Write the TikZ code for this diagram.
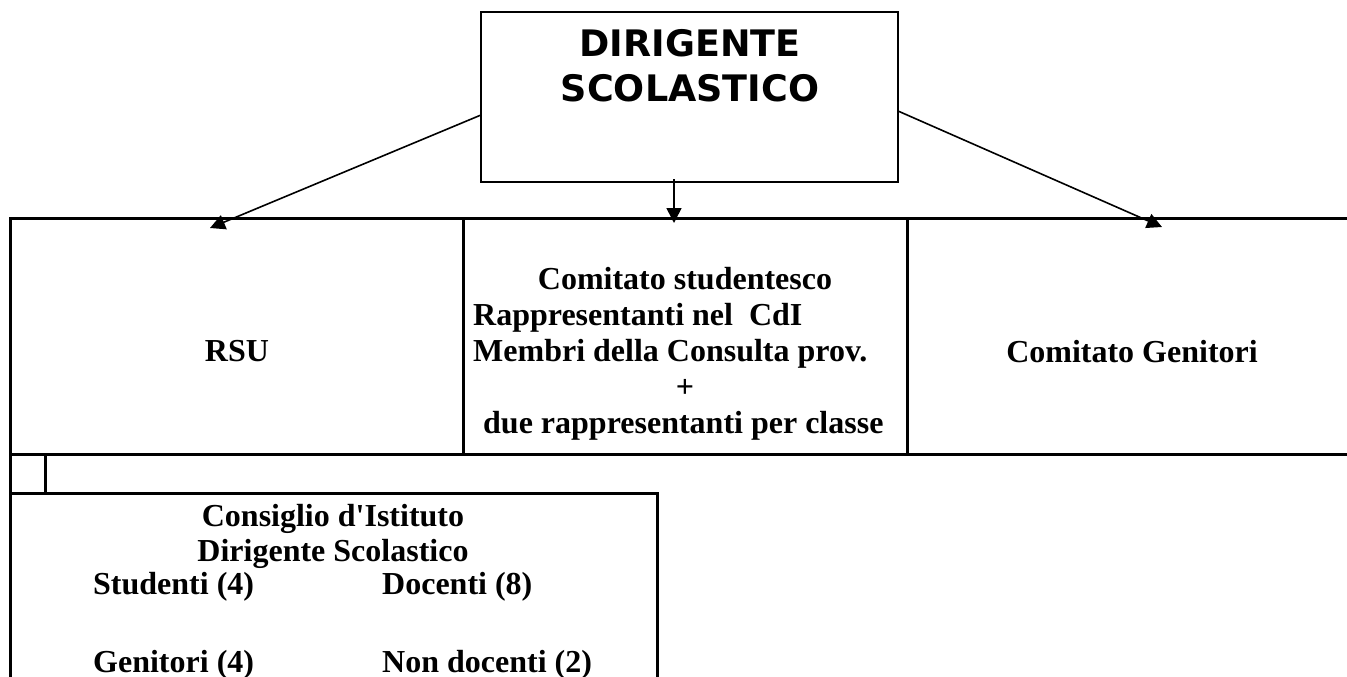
\documentclass[tikz,border=0pt]{standalone}
\usepackage{fontspec}
\setmainfont{Liberation Serif}
\newfontfamily\dvsans{DejaVu Sans}
\usetikzlibrary{arrows.meta}
\begin{document}
\begin{tikzpicture}[x=1pt,y=-1pt,
  tbl/.style={line width=3pt, line cap=rect},
  arr/.style={line width=1.6pt,-{Triangle[length=15pt,width=15pt]}},
  lbl/.style={font=\fontsize{32}{36}\selectfont\bfseries, inner sep=0pt, anchor=base},
  lbll/.style={lbl, anchor=base west},
  head/.style={font=\dvsans\fontsize{36.5}{44}\selectfont\bfseries, inner sep=0pt, anchor=base}]
\useasboundingbox (0,0) rectangle (1347,677);
% top box
\node[draw, line width=2pt, minimum width=417pt, minimum height=170pt, inner sep=0pt] (ds) at (689.5,97) {};
\node[head] (ds1) at (690,57) {DIRIGENTE};
\node[head] (ds2) at (690,101) {SCOLASTICO};
% table
\draw[tbl] (10,218) -- (1350,218);
\draw[tbl] (10,454) -- (1350,454);
\draw[tbl] (10,218) -- (10,680);
\draw[tbl] (463,218) -- (463,454);
\draw[tbl] (907,218) -- (907,454);
\draw[tbl] (45,454) -- (45,493);
\draw[tbl] (10,493) -- (657,493) -- (657,680);
% cell texts
\node[lbl] (rsu) at (237,361) {RSU};
\node[lbl] (cs1) at (685,289) {Comitato studentesco};
\node[lbll] (cs2) at (473,325) {Rappresentanti nel~~CdI};
\node[lbll] (cs3) at (473,361) {Membri della Consulta prov.};
\node[lbl] (cs4) at (685,397) {+};
\node[lbll] (cs5) at (483,433) {due rappresentanti per classe};
\node[lbl] (cg) at (1132,362) {Comitato Genitori};
% consiglio
\node[lbl] (ci1) at (333,526) {Consiglio d\textquotesingle Istituto};
\node[lbl] (ci2) at (333,561) {Dirigente Scolastico};
\node[lbll] (ci3) at (93,594) {Studenti (4)};
\node[lbll] (ci4) at (382,594) {Docenti (8)};
\node[lbll] (ci5) at (93,672) {Genitori (4)};
\node[lbll] (ci6) at (382,672) {Non docenti (2)};
% arrows
\coordinate (dsL) at (481,115);
\coordinate (dsR) at (898,111);
\coordinate (dsB) at (674,179);
\coordinate (tL) at (210,228);
\coordinate (tM) at (674,223);
\coordinate (tR) at (1162,227);
\draw[arr] (dsL) -- (tL);
\draw[arr] (dsB) -- (tM);
\draw[arr] (dsR) -- (tR);
\end{tikzpicture}
\end{document}
